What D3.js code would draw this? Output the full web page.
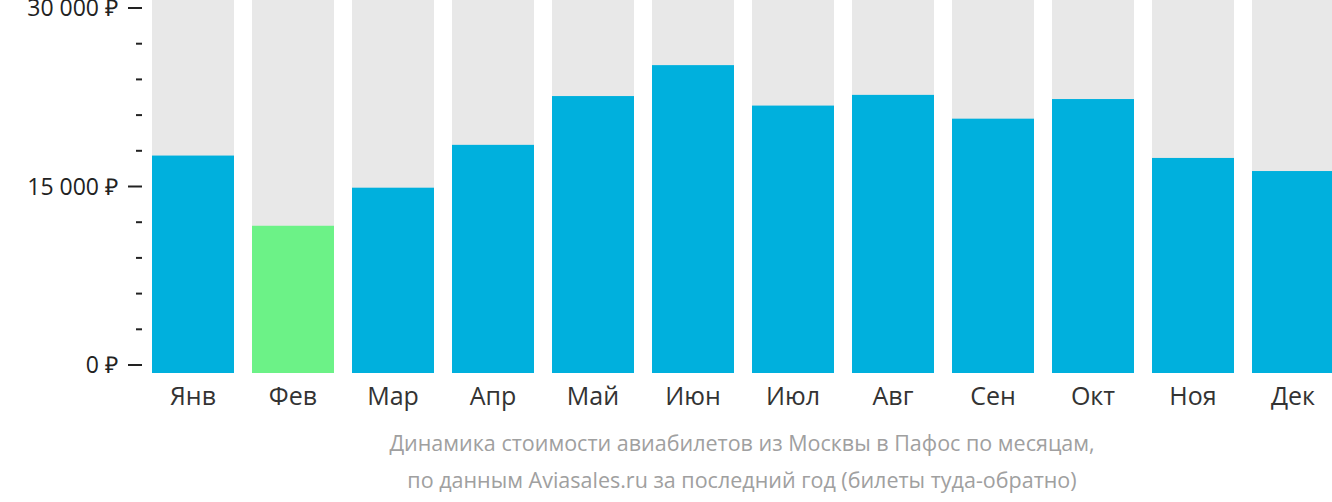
<!DOCTYPE html>
<html><head><meta charset="utf-8">
<script src="https://cdn.jsdelivr.net/npm/d3@7"></script>
<style>body{margin:0;background:#fff}text{font-family:"Open Sans",sans-serif;white-space:pre}</style>
</head><body><svg id="c" width="1332" height="502"></svg>
<script>
const months = ["Янв","Фев","Мар","Апр","Май","Июн","Июл","Авг","Сен","Окт","Ноя","Дек"];
const prices = [17600,11700,14900,18500,22600,25200,21800,22700,20700,22350,17400,16300];
const cheapest = "Фев";
const majorTicks = [0,15000,30000];
const minorTicks = [3000,6000,9000,12000,18000,21000,24000,27000];
const caption = ["Динамика стоимости авиабилетов из Москвы в Пафос по месяцам,",
  "по данным Aviasales.ru за последний год (билеты туда-обратно)"];

const svg = d3.select("#c");
const x = d3.scaleBand().domain(months).range([143,1343]).paddingInner(0.18).paddingOuter(0.09);
const y = d3.scaleLinear().domain([0,30000]).range([365,8]);
const bottom = 373;

svg.append("g").selectAll("rect").data(months).join("rect")
  .attr("x", d => x(d)).attr("width", x.bandwidth()).attr("y", 0).attr("height", bottom)
  .attr("fill", "#e8e8e8");
svg.append("g").selectAll("rect").data(prices).join("rect")
  .attr("x", (d,i) => x(months[i])).attr("width", x.bandwidth())
  .attr("y", d => y(d)).attr("height", d => bottom - y(d))
  .attr("fill", (d,i) => months[i] === cheapest ? "#6cf287" : "#00b0dd");

const fmt = v => d3.format(",")(v).replace(/,/g, " ") + " ₽";
const ax = svg.append("g");
ax.selectAll("line.maj").data(majorTicks).join("line")
  .attr("x1",128).attr("x2",142).attr("y1",d=>y(d)).attr("y2",d=>y(d))
  .attr("stroke","#222").attr("stroke-width",2);
ax.selectAll("line.min").data(minorTicks).join("line")
  .attr("x1",136).attr("x2",142).attr("y1",d=>y(d)).attr("y2",d=>y(d))
  .attr("stroke","#222").attr("stroke-width",2);
ax.selectAll("text").data(majorTicks).join("text")
  .attr("x",118).attr("y",d=>y(d)).attr("dy","0.35em").attr("text-anchor","end")
  .attr("font-size",23).attr("fill","#222").text(fmt);

svg.append("g").selectAll("text").data(months).join("text")
  .attr("x", d => x(d)+x.bandwidth()/2).attr("y", 405).attr("text-anchor","middle")
  .attr("font-size",25).attr("fill","#333").text(d => d);

svg.append("g").selectAll("text").data(caption).join("text")
  .attr("x", 742).attr("y", (d,i) => 451 + i*37).attr("text-anchor","middle")
  .attr("font-size",21.5).attr("fill","#a0a0a0").text(d => d);
</script></body></html>
